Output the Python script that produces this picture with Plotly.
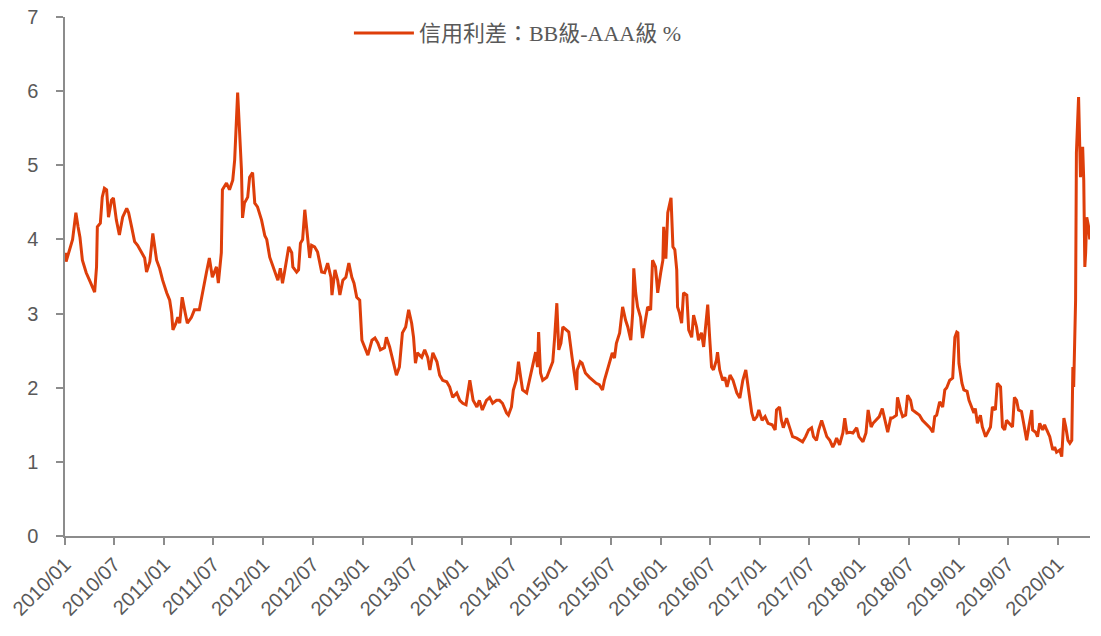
import plotly.graph_objects as go

dates_2010 = ["2010-01-04","2010-01-05","2010-01-29","2010-02-10","2010-02-18","2010-02-25","2010-03-06","2010-03-20",
              "2010-04-01","2010-04-12","2010-04-20","2010-04-27","2010-04-30","2010-05-11","2010-05-18","2010-05-26",
              "2010-06-03","2010-06-10","2010-06-21","2010-06-28","2010-07-09","2010-07-20","2010-08-01","2010-08-16",
              "2010-08-23","2010-09-03","2010-09-14","2010-09-25","2010-10-10","2010-10-21","2010-10-28","2010-11-09",
              "2010-11-20","2010-11-27","2010-12-04","2010-12-15","2010-12-26"]
vals_2010 = [3.82,3.70,4.00,4.36,4.17,4.03,3.72,3.55,3.45,3.36,3.29,3.63,4.17,4.22,4.57,4.69,
             4.67,4.30,4.53,4.56,4.26,4.06,4.30,4.42,4.36,4.17,3.97,3.92,3.82,3.75,3.56,3.70,
             4.08,3.90,3.72,3.61,3.45]

dates_2011 = ["2011-01-10","2011-01-21","2011-01-28","2011-02-02","2011-02-13","2011-02-20","2011-02-27","2011-03-08",
              "2011-03-19","2011-03-27","2011-04-11","2011-04-22","2011-05-10","2011-05-21","2011-06-05","2011-06-16",
              "2011-06-27","2011-07-12","2011-07-19","2011-07-30","2011-08-03","2011-08-18","2011-08-29","2011-09-10",
              "2011-09-17","2011-09-28","2011-10-05","2011-10-12","2011-10-16","2011-10-23","2011-11-04","2011-11-11",
              "2011-11-22","2011-11-30","2011-12-10","2011-12-25"]
vals_2011 = [3.28,3.18,3.01,2.78,2.87,2.95,2.87,3.22,3.01,2.87,2.95,3.05,3.05,3.28,3.55,3.75,
             3.49,3.63,3.41,3.82,4.67,4.76,4.67,4.80,5.07,5.98,5.48,4.94,4.29,4.49,4.57,4.84,
             4.90,4.49,4.44,4.26]

dates_2012 = ["2012-01-06","2012-01-13","2012-01-24","2012-02-12","2012-02-23","2012-03-03","2012-03-11","2012-03-18",
              "2012-04-03","2012-04-14","2012-04-18","2012-05-02","2012-05-09","2012-05-16","2012-05-24","2012-06-01",
              "2012-06-08","2012-06-19","2012-06-26","2012-07-07","2012-07-18","2012-08-02","2012-08-13","2012-08-24",
              "2012-09-05","2012-09-09","2012-09-20","2012-09-30","2012-10-08","2012-10-19","2012-10-30","2012-11-10",
              "2012-11-21","2012-11-29","2012-12-09","2012-12-20","2012-12-28"]
vals_2012 = [4.05,4.00,3.76,3.55,3.45,3.61,3.41,3.55,3.90,3.82,3.63,3.56,3.59,3.95,4.00,4.40,
             4.13,3.75,3.92,3.90,3.83,3.56,3.55,3.68,3.49,3.25,3.59,3.45,3.25,3.45,3.49,3.68,
             3.49,3.41,3.22,3.18,2.64]

dates_2013 = ["2013-01-08","2013-01-19","2013-02-03","2013-02-14","2013-02-25","2013-03-06","2013-03-21","2013-03-28",
              "2013-04-09","2013-04-20","2013-05-04","2013-05-15","2013-05-26","2013-06-07","2013-06-18","2013-06-29",
              "2013-07-06","2013-07-13","2013-07-20","2013-08-05","2013-08-16","2013-08-27","2013-09-04","2013-09-15",
              "2013-09-30","2013-10-10","2013-10-21","2013-11-05","2013-11-16","2013-11-27","2013-12-12","2013-12-23"]
vals_2013 = [2.55,2.44,2.64,2.67,2.60,2.51,2.54,2.68,2.55,2.37,2.17,2.28,2.74,2.82,3.05,2.87,
             2.68,2.33,2.47,2.41,2.51,2.41,2.24,2.47,2.35,2.17,2.10,2.08,2.01,1.87,1.93,1.83]

dates_2014 = ["2014-01-03","2014-01-15","2014-01-29","2014-02-10","2014-02-24","2014-03-05","2014-03-16","2014-03-31",
              "2014-04-12","2014-04-23","2014-05-07","2014-05-18","2014-05-29","2014-06-13","2014-06-20","2014-07-01",
              "2014-07-08","2014-07-19","2014-07-27","2014-08-04","2014-08-11","2014-08-26","2014-09-06","2014-09-17",
              "2014-09-28","2014-10-05","2014-10-09","2014-10-16","2014-10-24","2014-11-08","2014-11-19","2014-11-30",
              "2014-12-07","2014-12-15","2014-12-22","2014-12-30"]
vals_2014 = [1.79,1.77,2.10,1.83,1.74,1.83,1.70,1.83,1.87,1.79,1.83,1.83,1.79,1.66,1.63,1.74,
             1.97,2.10,2.35,2.14,1.97,1.93,2.10,2.28,2.48,2.28,2.75,2.20,2.10,2.14,2.24,2.35,
             2.68,3.14,2.51,2.60]

dates_2015 = ["2015-01-06","2015-01-21","2015-01-28","2015-02-09","2015-02-16","2015-02-26","2015-02-28","2015-03-11",
              "2015-03-18","2015-03-30","2015-04-14","2015-04-25","2015-05-09","2015-05-20","2015-06-01","2015-06-08",
              "2015-06-16","2015-06-27","2015-07-07","2015-07-15","2015-07-22","2015-08-03","2015-08-14","2015-08-25",
              "2015-09-02","2015-09-13","2015-09-20","2015-09-24","2015-10-01","2015-10-08","2015-10-19","2015-10-26",
              "2015-11-07","2015-11-14","2015-11-25","2015-12-02","2015-12-13","2015-12-21"]
vals_2015 = [2.82,2.78,2.75,2.41,2.20,1.97,2.24,2.35,2.33,2.20,2.14,2.10,2.06,2.04,1.97,2.10,
             2.20,2.35,2.47,2.40,2.60,2.74,3.09,2.91,2.82,2.64,3.01,3.61,3.28,3.09,2.95,2.67,
             2.91,3.09,3.05,3.72,3.63,3.28]

dates_2016 = ["2016-01-01","2016-01-09","2016-01-12","2016-01-20","2016-01-27","2016-02-08","2016-02-15","2016-02-22",
              "2016-02-29","2016-03-03","2016-03-10","2016-03-18","2016-03-25","2016-04-06","2016-04-13","2016-04-24",
              "2016-05-01","2016-05-12","2016-05-19","2016-05-30","2016-06-07","2016-06-15","2016-06-22","2016-06-29",
              "2016-07-06","2016-07-13","2016-07-24","2016-07-28","2016-08-05","2016-08-16","2016-08-24","2016-09-01",
              "2016-09-12","2016-09-23","2016-09-30","2016-10-07","2016-10-18","2016-10-29","2016-11-09","2016-11-17",
              "2016-11-24","2016-12-01","2016-12-09","2016-12-20","2016-12-27"]
vals_2016 = [3.55,3.72,4.17,3.74,4.36,4.56,3.90,3.86,3.59,3.09,3.01,2.87,3.28,3.25,2.78,2.68,
             2.98,2.82,2.64,2.74,2.55,2.87,3.12,2.68,2.28,2.24,2.37,2.48,2.24,2.10,2.14,2.01,
             2.17,2.10,2.01,1.93,1.86,2.10,2.24,2.01,1.83,1.66,1.56,1.61,1.70]

dates_2017 = ["2017-01-08","2017-01-19","2017-01-30","2017-02-14","2017-02-25","2017-03-02","2017-03-13","2017-03-20",
              "2017-03-27","2017-04-08","2017-04-19","2017-04-30","2017-05-15","2017-05-26","2017-06-06","2017-06-17",
              "2017-06-28","2017-07-09","2017-07-16","2017-07-27","2017-08-04","2017-08-15","2017-08-23","2017-09-03",
              "2017-09-14","2017-09-25","2017-10-02","2017-10-09","2017-10-20","2017-11-01","2017-11-08","2017-11-16",
              "2017-11-27","2017-12-08","2017-12-22","2017-12-30"]
vals_2017 = [1.56,1.61,1.52,1.50,1.43,1.70,1.74,1.56,1.46,1.59,1.47,1.34,1.32,1.29,1.27,1.34,
             1.43,1.46,1.34,1.29,1.43,1.56,1.47,1.34,1.29,1.20,1.25,1.32,1.23,1.39,1.59,1.39,
             1.40,1.39,1.46,1.34]

dates_2018 = ["2018-01-14","2018-01-25","2018-02-02","2018-02-13","2018-02-20","2018-03-04","2018-03-15","2018-03-26",
              "2018-04-07","2018-04-15","2018-04-26","2018-05-02","2018-05-17","2018-05-21","2018-06-01","2018-06-09",
              "2018-06-20","2018-06-27","2018-07-08","2018-07-15","2018-07-30","2018-08-10","2018-08-21","2018-09-06",
              "2018-09-17","2018-09-28","2018-10-05","2018-10-12","2018-10-23","2018-11-03","2018-11-11","2018-11-18",
              "2018-11-29","2018-12-10","2018-12-18","2018-12-25","2018-12-29"]
vals_2018 = [1.27,1.39,1.70,1.47,1.52,1.56,1.61,1.72,1.52,1.40,1.59,1.59,1.63,1.87,1.70,1.61,
             1.63,1.90,1.83,1.70,1.66,1.63,1.56,1.50,1.46,1.40,1.61,1.63,1.81,1.74,1.97,2.00,
             2.10,2.13,2.68,2.75,2.74]

dates_2019 = ["2019-01-02","2019-01-13","2019-01-20","2019-02-01","2019-02-08","2019-02-19","2019-02-26","2019-03-03",
              "2019-03-11","2019-03-22","2019-03-29","2019-04-10","2019-04-17","2019-04-28","2019-05-05","2019-05-16",
              "2019-05-23","2019-06-04","2019-06-11","2019-06-19","2019-06-26","2019-07-07","2019-07-18","2019-07-25",
              "2019-08-02","2019-08-09","2019-08-20","2019-08-28","2019-09-08","2019-09-16","2019-09-27","2019-09-30",
              "2019-10-11","2019-10-18","2019-10-26","2019-11-06","2019-11-13","2019-11-21","2019-12-02","2019-12-13",
              "2019-12-20","2019-12-27"]
vals_2019 = [2.33,2.06,1.97,1.95,1.83,1.72,1.66,1.72,1.52,1.63,1.47,1.34,1.40,1.47,1.74,1.70,
             2.06,2.01,1.47,1.43,1.56,1.52,1.47,1.87,1.83,1.70,1.68,1.52,1.29,1.47,1.70,1.43,
             1.40,1.34,1.52,1.43,1.50,1.43,1.34,1.16,1.20,1.13]

dates_2020 = ["2020-01-08","2020-01-15","2020-01-23","2020-01-30","2020-02-07","2020-02-14","2020-02-21","2020-02-25",
              "2020-02-28","2020-03-06","2020-03-09","2020-03-17","2020-03-24","2020-04-01","2020-04-05","2020-04-09",
              "2020-04-12","2020-04-16","2020-04-23","2020-04-27"]
vals_2020 = [1.16,1.07,1.59,1.47,1.29,1.25,1.29,2.28,2.01,3.18,5.17,5.92,4.84,5.25,4.80,3.63,
             3.82,4.30,4.17,4.00]

series_name = "信用利差：BB級-AAA級 %"
tick_dates = ["2010-01-01","2010-07-01","2011-01-01","2011-07-01","2012-01-01","2012-07-01","2013-01-01",
              "2013-07-01","2014-01-01","2014-07-01","2015-01-01","2015-07-01","2016-01-01","2016-07-01",
              "2017-01-01","2017-07-01","2018-01-01","2018-07-01","2019-01-01","2019-07-01","2020-01-01"]
tick_labels = ["2010/01","2010/07","2011/01","2011/07","2012/01","2012/07","2013/01","2013/07","2014/01",
               "2014/07","2015/01","2015/07","2016/01","2016/07","2017/01","2017/07","2018/01","2018/07",
               "2019/01","2019/07","2020/01"]
y_ticks = [0, 1, 2, 3, 4, 5, 6, 7]

dates = (dates_2010 + dates_2011 + dates_2012 + dates_2013 + dates_2014 + dates_2015 +
         dates_2016 + dates_2017 + dates_2018 + dates_2019 + dates_2020)
vals = (vals_2010 + vals_2011 + vals_2012 + vals_2013 + vals_2014 + vals_2015 +
        vals_2016 + vals_2017 + vals_2018 + vals_2019 + vals_2020)

LINE = "#DE3E0A"
GREY_TXT = "#595959"
AXIS = "#8C8C8C"

fig = go.Figure()
fig.add_trace(go.Scatter(x=dates, y=vals, mode="lines", name=series_name,
                         line=dict(color=LINE, width=3)))

fig.update_layout(
    width=1101, height=636,
    margin=dict(l=65, r=11, t=17, b=100, autoexpand=False),
    paper_bgcolor="white", plot_bgcolor="white",
    showlegend=True,
    legend=dict(orientation="h", x=0.277, y=0.969, xanchor="left", yanchor="middle",
                bgcolor="rgba(0,0,0,0)", itemwidth=60,
                font=dict(family="Liberation Serif, Noto Sans CJK TC", size=22, color=GREY_TXT)),
    font=dict(family="Liberation Sans, Arial", color=GREY_TXT),
)
fig.update_xaxes(type="date", range=["2010-01-01", "2020-04-28"], automargin=False,
                 tickvals=tick_dates, ticktext=tick_labels, tickangle=-45,
                 tickfont=dict(size=20, color=GREY_TXT, family="Liberation Sans, Arial"),
                 showgrid=False, zeroline=False, showline=True, linecolor=AXIS, linewidth=1.5,
                 ticks="outside", ticklen=7, tickcolor=AXIS, tickwidth=1.5)
fig.update_yaxes(range=[0, 7], tickvals=y_ticks, showgrid=False, zeroline=False, automargin=False,
                 showline=True, linecolor=AXIS, linewidth=1.5,
                 ticks="outside", ticklen=7, tickcolor=AXIS, tickwidth=1.5,
                 ticklabelstandoff=14,
                 tickfont=dict(size=20, color=GREY_TXT, family="Liberation Sans, Arial"))

# remove the default 8px page margin so the 1101x636 figure fills the window exactly
fig.write_html("out.html", config={"displayModeBar": False},
               post_script="document.body.style.margin='0';document.body.style.overflow='hidden';")
